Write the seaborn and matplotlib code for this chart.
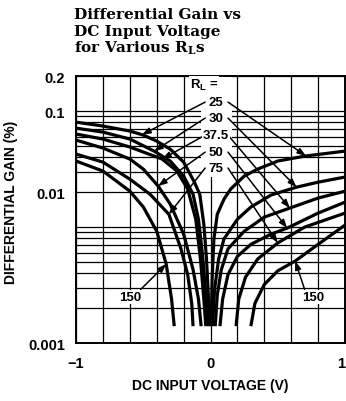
import numpy as np
import pandas as pd
import seaborn as sns
import matplotlib.pyplot as plt
from matplotlib.patches import Rectangle
from matplotlib.ticker import FixedLocator, FixedFormatter, NullFormatter

# load resistances (ohms) shown on the chart
loads = ['25', '30', '37.5', '50', '75', '150']

# negative input voltage branches: volts, differential gain (%)
neg_v_25 = [-1.0, -0.8, -0.6, -0.5, -0.4, -0.3, -0.2, -0.12, -0.08, -0.05, -0.03, -0.015, -0.005]
neg_g_25 = [0.0803, 0.0743, 0.0673, 0.0621, 0.0551, 0.047, 0.0363, 0.0244, 0.0192, 0.0106, 0.0053, 0.0024, 0.0014]
neg_v_30 = [-1.0, -0.8, -0.6, -0.42, -0.3, -0.2, -0.13, -0.09, -0.06, -0.035, -0.02]
neg_g_30 = [0.0713, 0.0659, 0.0574, 0.0452, 0.0371, 0.0275, 0.0192, 0.0117, 0.0058, 0.0026, 0.0014]
neg_v_375 = [-1.0, -0.8, -0.6, -0.36, -0.25, -0.17, -0.11, -0.075, -0.05, -0.035]
neg_g_375 = [0.0634, 0.0574, 0.049, 0.0386, 0.0304, 0.0213, 0.0117, 0.0053, 0.0024, 0.0014]
neg_v_50 = [-1.0, -0.8, -0.6, -0.5, -0.39, -0.3, -0.2, -0.13, -0.09, -0.07]
neg_g_50 = [0.0562, 0.048, 0.0386, 0.0316, 0.0226, 0.0158, 0.0087, 0.0043, 0.0024, 0.0014]
neg_v_75 = [-1.0, -0.8, -0.6, -0.45, -0.31, -0.22, -0.17, -0.14, -0.13]
neg_g_75 = [0.0426, 0.0363, 0.0259, 0.0192, 0.0129, 0.0065, 0.0039, 0.0022, 0.0014]
neg_v_150 = [-1.0, -0.8, -0.6, -0.5, -0.4, -0.33, -0.29, -0.27]
neg_g_150 = [0.0371, 0.0304, 0.0204, 0.0149, 0.0092, 0.0048, 0.0024, 0.0014]

# positive input voltage branches
pos_v_25 = [0.005, 0.012, 0.025, 0.05, 0.1, 0.15, 0.25, 0.35, 0.5, 0.7, 1.0]
pos_g_25 = [0.0014, 0.0036, 0.0079, 0.0129, 0.0174, 0.0213, 0.0275, 0.0316, 0.0371, 0.0409, 0.0452]
pos_v_30 = [0.015, 0.03, 0.06, 0.1, 0.2, 0.3, 0.45, 0.64, 0.8, 1.0]
pos_g_30 = [0.0014, 0.0029, 0.0053, 0.0079, 0.0117, 0.0149, 0.0189, 0.0221, 0.0244, 0.027]
pos_v_375 = [0.035, 0.05, 0.08, 0.13, 0.25, 0.4, 0.59, 0.8, 1.0]
pos_g_375 = [0.0014, 0.0026, 0.0043, 0.0065, 0.0092, 0.0122, 0.0146, 0.0178, 0.0204]
pos_v_50 = [0.07, 0.09, 0.13, 0.2, 0.3, 0.45, 0.57, 0.8, 1.0]
pos_g_50 = [0.0014, 0.0024, 0.0039, 0.0056, 0.0071, 0.0087, 0.0098, 0.0132, 0.0164]
pos_v_75 = [0.19, 0.21, 0.26, 0.35, 0.5, 0.7, 1.0]
pos_g_75 = [0.0014, 0.0024, 0.0037, 0.0053, 0.0073, 0.01, 0.0132]
pos_v_150 = [0.3, 0.33, 0.4, 0.5, 0.63, 0.8, 1.0]
pos_g_150 = [0.0014, 0.0022, 0.0032, 0.0042, 0.0051, 0.0071, 0.0104]

# where the label arrows touch each curve (volts)
arrow_v_neg = [-0.51, -0.42, -0.36, -0.39, -0.31, -0.33]
arrow_v_pos = [0.71, 0.64, 0.59, 0.57, 0.50, 0.63]

neg = [(neg_v_25, neg_g_25), (neg_v_30, neg_g_30), (neg_v_375, neg_g_375),
       (neg_v_50, neg_g_50), (neg_v_75, neg_g_75), (neg_v_150, neg_g_150)]
pos = [(pos_v_25, pos_g_25), (pos_v_30, pos_g_30), (pos_v_375, pos_g_375),
       (pos_v_50, pos_g_50), (pos_v_75, pos_g_75), (pos_v_150, pos_g_150)]

rows = []
for rl, (v, g) in zip(loads, neg):
    rows += [{'volts': a, 'gain': b, 'curve': rl + '-'} for a, b in zip(v, g)]
for rl, (v, g) in zip(loads, pos):
    rows += [{'volts': a, 'gain': b, 'curve': rl + '+'} for a, b in zip(v, g)]
df = pd.DataFrame(rows)

sns.set_style('white')
plt.rcParams['font.family'] = ['Liberation Sans', 'DejaVu Sans']
plt.rcParams['text.color'] = 'black'
plt.rcParams['axes.labelcolor'] = 'black'
plt.rcParams['xtick.color'] = 'black'
plt.rcParams['ytick.color'] = 'black'
plt.rcParams['mathtext.fontset'] = 'custom'
plt.rcParams['mathtext.bf'] = 'DejaVu Serif:bold'
plt.rcParams['mathtext.sf'] = 'Liberation Sans:bold'

fig = plt.figure(figsize=(3.46, 4.02), dpi=100)
ax = fig.add_axes([0.22, 0.144, 0.777, 0.664])

sns.lineplot(data=df, x='volts', y='gain', units='curve', estimator=None,
             sort=False, color='black', lw=2.3, legend=False, ax=ax, zorder=3)
for line in ax.lines:
    line.set_solid_capstyle('butt')

ax.set_yscale('log')
ax.set_xlim(-1, 1)
ax.set_ylim(0.001, 0.2)

# grid: every 0.2 V, log minors on y
ax.xaxis.set_major_locator(FixedLocator([-1, 0, 1]))
ax.xaxis.set_major_formatter(FixedFormatter(['\u22121', '0', '1']))
ax.xaxis.set_minor_locator(FixedLocator(np.arange(-1, 1.01, 0.2)))
ygrid = [k * 10.0 ** e for e in (-3, -2) for k in range(1, 10)] + [0.1]
ax.yaxis.set_major_locator(FixedLocator([0.001, 0.02, 0.1, 0.2]))
ax.yaxis.set_major_formatter(FixedFormatter(['0.001', '0.01', '0.1', '0.2']))
ax.yaxis.set_minor_locator(FixedLocator(ygrid))
ax.yaxis.set_minor_formatter(NullFormatter())
ax.grid(which='both', color='black', lw=0.9, zorder=1)
ax.set_axisbelow(True)
ax.tick_params(which='both', length=0)
ax.tick_params(axis='y', pad=8, labelsize=10.5)
ax.tick_params(axis='x', pad=9, labelsize=10.5)
for t in ax.get_xticklabels() + ax.get_yticklabels():
    t.set_fontweight('bold')
ax.get_xticklabels()[-1].set_ha('right')
ax.get_xticklabels()[-1].set_x(0.99)
for s in ax.spines.values():
    s.set_color('black')
    s.set_linewidth(1.4)

ax.set_xlabel('DC INPUT VOLTAGE (V)', fontsize=10, fontweight='bold', labelpad=6)
ax.set_ylabel('DIFFERENTIAL GAIN (%)', fontsize=10, fontweight='bold', labelpad=3)
ax.yaxis.set_label_coords(-0.215, 0.53)

# white column behind the load labels (hides grid there)
ax.add_patch(Rectangle((-0.07, 0.027), 0.23, 0.17, facecolor='white',
                       edgecolor='none', zorder=2))

# curve labels and arrows
box = dict(facecolor='white', edgecolor='none', pad=0.6)
ax.text(-0.05, 0.171, r'$\mathsf{R_L}$ =', ha='center', va='center', fontsize=9.5,
        fontweight='bold', bbox=box, zorder=6)
label_y = [0.1196, 0.0871, 0.0621, 0.0443, 0.0323]
arrow_kw = dict(arrowstyle='-|>,head_length=0.5,head_width=0.18', color='black',
                lw=1.1, shrinkA=0, shrinkB=0)


def on_curve(v, curve):
    cv, cg = curve
    order = np.argsort(cv)
    return 10 ** np.interp(v, np.array(cv)[order], np.log10(np.array(cg)[order]))


for i, rl in enumerate(loads[:5]):
    y = label_y[i]
    ax.text(0.04, y, rl, ha='center', va='center', fontsize=9.5, fontweight='bold',
            bbox=box, zorder=6)
    ax.annotate('', xy=(arrow_v_neg[i], on_curve(arrow_v_neg[i], neg[i])),
                xytext=(-0.04, y), arrowprops=arrow_kw, zorder=5)
    ax.annotate('', xy=(arrow_v_pos[i], on_curve(arrow_v_pos[i], pos[i])),
                xytext=(0.13, y), arrowprops=arrow_kw, zorder=5)

ax.text(-0.60, 0.00249, '150', ha='center', va='center', fontsize=9.5,
        fontweight='bold', bbox=box, zorder=6)
ax.annotate('', xy=(arrow_v_neg[5], on_curve(arrow_v_neg[5], neg[5])),
            xytext=(-0.52, 0.0029), arrowprops=arrow_kw, zorder=5)
ax.text(0.76, 0.00249, '150', ha='center', va='center', fontsize=9.5,
        fontweight='bold', bbox=box, zorder=6)
ax.annotate('', xy=(arrow_v_pos[5], on_curve(arrow_v_pos[5], pos[5])),
            xytext=(0.70, 0.0029), arrowprops=arrow_kw, zorder=5)

# title
title_lines = ['Differential Gain vs', 'DC Input Voltage', r'for Various $\mathbf{R_L}$s']
for i, t in enumerate(title_lines):
    fig.text(0.215, 0.962 - i * 0.041, t, ha='left', va='center', fontsize=11,
             fontweight='bold', family='DejaVu Serif')

fig.savefig('out.png', dpi=100)
